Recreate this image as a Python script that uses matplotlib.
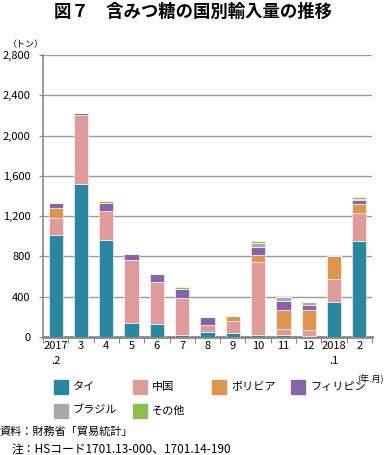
import matplotlib
matplotlib.use("Agg")
import matplotlib.pyplot as plt
from matplotlib.patches import Rectangle
import numpy as np

plt.rcParams['font.family'] = ['Noto Sans CJK JP', 'DejaVu Sans']

# month labels (year.month)
months = ["2017\n.2", "3", "4", "5", "6", "7", "8", "9", "10", "11", "12", "2018\n.1", "2"]

# imports by country (tons)
thai = [1010, 1520, 965, 140, 130, 15, 50, 35, 15, 15, 5, 350, 950]
china = [175, 680, 290, 625, 420, 375, 65, 125, 730, 65, 68, 230, 280]
bolivia = [100, 0, 0, 0, 0, 0, 0, 50, 70, 190, 200, 225, 95]
philippines = [50, 20, 75, 55, 75, 85, 85, 0, 80, 90, 45, 0, 37]
brazil = [0, 0, 0, 0, 0, 0, 0, 0, 35, 40, 25, 0, 10]
others = [0, 0, 25, 0, 0, 25, 0, 0, 25, 0, 0, 0, 15]

series = [thai, china, bolivia, philippines, brazil, others]
names = ["タイ", "中国", "ボリビア", "フィリピン", "ブラジル", "その他"]
colors = ["#2b87a0", "#dd9b99", "#e0954f", "#8565a8", "#a9a9a9", "#8cc04d"]

fig = plt.figure(figsize=(3.86, 4.55), dpi=100)
ax = fig.add_axes([43 / 386, 1 - 337 / 455, 329 / 386, 282 / 455])

x = np.arange(len(months))
bottom = np.zeros(len(months))
for vals, c in zip(series, colors):
    vals = np.array(vals, dtype=float)
    ax.bar(x, vals, 0.56, bottom=bottom, color=c, edgecolor="white", linewidth=0.4, zorder=3)
    bottom += vals

ax.set_xlim(-0.5, len(months) - 0.5)
ax.set_ylim(0, 2800)
ax.set_yticks(np.arange(0, 2801, 400))
ax.set_yticklabels([f"{v:,}" for v in range(0, 2801, 400)], fontsize=8)
ax.yaxis.grid(True, color="#9a9a9a", linewidth=1.0, zorder=0)
ax.tick_params(axis="y", length=3, color="#888888", pad=6)

# category labels between boundary ticks
ax.set_xticks(np.arange(-0.5, len(months), 1.0))
ax.set_xticklabels([])
ax.tick_params(axis="x", length=4, color="#888888", direction="out")
ax.set_xticks(x, minor=True)
ax.set_xticklabels(months, minor=True, fontsize=8, va="top", linespacing=1.6)
ax.tick_params(axis="x", which="minor", length=0, pad=3)

for s in ["top", "right"]:
    ax.spines[s].set_visible(False)
ax.spines["left"].set_color("#888888")
ax.spines["left"].set_linewidth(1.2)
ax.spines["bottom"].set_color("#888888")
ax.spines["bottom"].set_linewidth(2.0)

fig.text(0.5, 1 - 12 / 455, "図７　含みつ糖の国別輸入量の推移", ha="center", va="center",
         fontsize=12.5, fontweight="bold")
fig.text(8 / 386, 1 - 45 / 455, "（トン）", ha="left", va="center", fontsize=6.5)
fig.text(384 / 386, 1 - 379 / 455, "(年.月)", ha="right", va="center", fontsize=6.5)

# legend
for i, (n, c) in enumerate(zip(names, colors)):
    col = i % 4
    row = i // 4
    lx = 54 + col * 79
    ly = 387 + row * 24
    fig.patches.append(Rectangle((lx / 386, 1 - (ly + 7) / 455), 14 / 386, 14 / 455,
                                 transform=fig.transFigure, color=c))
    fig.text((lx + 19) / 386, 1 - ly / 455, n, ha="left", va="center", fontsize=8)

fig.text(0, 1 - 432 / 455, "資料：財務省「貿易統計」", ha="left", va="center", fontsize=8)
fig.text(12 / 386, 1 - 449 / 455, "注：HSコード1701.13-000、1701.14-190", ha="left", va="center", fontsize=8.5)

fig.savefig("out.png", dpi=100)
